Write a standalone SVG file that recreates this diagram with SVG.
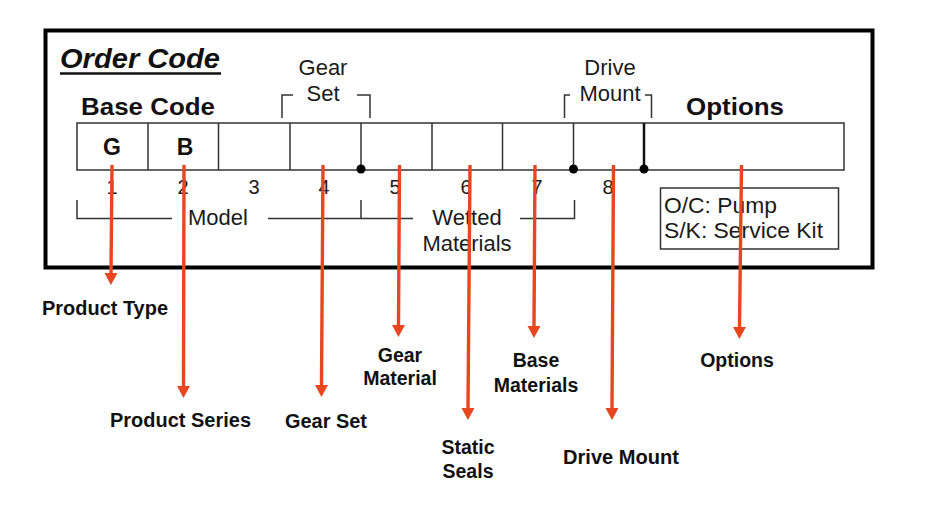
<svg xmlns="http://www.w3.org/2000/svg" width="936" height="525" viewBox="0 0 936 525">
<defs>
<marker id="ah" viewBox="0 0 12 13" refX="0" refY="6.5" markerWidth="12" markerHeight="13" markerUnits="userSpaceOnUse" orient="auto">
<path d="M0,0 L12,6.5 L0,13 z" fill="#E8461E"/>
</marker>
</defs>
<style>
.t{font-family:"Liberation Sans",Arial,sans-serif;fill:#1a1a1a}
.b{font-family:"Liberation Sans",Arial,sans-serif;font-weight:bold;fill:#111}
.n{font-size:20px;text-anchor:middle}
.lbl{font-size:19.5px}
.ln{stroke:#333;stroke-width:1.5;fill:none}
.arr{stroke:#E8461E;stroke-width:3.4;fill:none;marker-end:url(#ah)}
.mid{text-anchor:middle}
</style>
<rect width="936" height="525" fill="#fff"/>
<g id="frame">
<rect x="45.5" y="30.5" width="827" height="237" fill="none" stroke="#000" stroke-width="4"/>
<text class="b" x="60" y="68" font-size="27" font-style="italic" textLength="160" lengthAdjust="spacingAndGlyphs">Order Code</text>
<line x1="60" y1="73.5" x2="221" y2="73.5" stroke="#111" stroke-width="2.5"/>
<text class="b" x="81" y="115" font-size="23" textLength="134" lengthAdjust="spacingAndGlyphs">Base Code</text>
<text class="b" x="686" y="115" font-size="24" textLength="98" lengthAdjust="spacingAndGlyphs">Options</text>
</g>
<g id="table">
<rect x="77" y="123" width="767" height="47" class="ln"/>
<line class="ln" x1="148" y1="123" x2="148" y2="170"/>
<line class="ln" x1="218.5" y1="123" x2="218.5" y2="170"/>
<line class="ln" x1="290" y1="123" x2="290" y2="170"/>
<line class="ln" x1="361" y1="123" x2="361" y2="170"/>
<line class="ln" x1="432" y1="123" x2="432" y2="170"/>
<line class="ln" x1="502.5" y1="123" x2="502.5" y2="170"/>
<line class="ln" x1="573.5" y1="123" x2="573.5" y2="170"/>
<line x1="644" y1="123" x2="644" y2="170" stroke="#111" stroke-width="2.5"/>
<circle cx="361" cy="169" r="4.5" fill="#000"/>
<circle cx="573.5" cy="169" r="4.5" fill="#000"/>
<circle cx="644" cy="169" r="4.5" fill="#000"/>
<text class="b mid" x="112" y="155" font-size="23">G</text>
<text class="b mid" x="185" y="155" font-size="23">B</text>
<text class="t n" x="112" y="194">1</text>
<text class="t n" x="183" y="194">2</text>
<text class="t n" x="254" y="194">3</text>
<text class="t n" x="324" y="194">4</text>
<text class="t n" x="395" y="194">5</text>
<text class="t n" x="466" y="194">6</text>
<text class="t n" x="537" y="194">7</text>
<text class="t n" x="608" y="194">8</text>
</g>
<g id="brackets">
<path class="ln" d="M77,200 V218.5 H172 M268,218.5 H361 V200 M361,218.5 H413 M520,218.5 H574.5 V200"/>
<text class="t mid" x="218" y="225" font-size="22">Model</text>
<text class="t mid" x="467" y="225" font-size="22">Wetted</text>
<text class="t mid" x="467" y="251" font-size="22">Materials</text>
<path class="ln" d="M293,95 H282 V118 M357,95 H370 V118"/>
<text class="t mid" x="323" y="75" font-size="22">Gear</text>
<text class="t mid" x="323" y="101" font-size="22">Set</text>
<path class="ln" d="M570,95 H564.5 V118 M645,95 H651.5 V118"/>
<text class="t mid" x="610" y="75" font-size="22">Drive</text>
<text class="t mid" x="610" y="101" font-size="22">Mount</text>
<rect class="ln" x="660.5" y="188" width="178" height="61"/>
<text class="t" x="664" y="213" font-size="22" textLength="113" lengthAdjust="spacingAndGlyphs">O/C: Pump</text>
<text class="t" x="664" y="238" font-size="22" textLength="159" lengthAdjust="spacingAndGlyphs">S/K: Service Kit</text>
</g>
<g id="connectors">
<line class="arr" x1="112" y1="165" x2="111" y2="273"/>
<line class="arr" x1="184" y1="165" x2="183.5" y2="386"/>
<line class="arr" x1="323" y1="165" x2="321.5" y2="385"/>
<line class="arr" x1="399.5" y1="165" x2="398.5" y2="325"/>
<line class="arr" x1="470" y1="165" x2="468" y2="408"/>
<line class="arr" x1="535" y1="165" x2="534" y2="326"/>
<line class="arr" x1="613.5" y1="165" x2="612" y2="408"/>
<line class="arr" x1="741.5" y1="165" x2="739.5" y2="327"/>
</g>
<g id="n-product-type"><text class="b lbl" x="42" y="315" textLength="126" lengthAdjust="spacingAndGlyphs">Product Type</text></g>
<g id="n-product-series"><text class="b lbl" x="110" y="427" textLength="141" lengthAdjust="spacingAndGlyphs">Product Series</text></g>
<g id="n-gear-set"><text class="b lbl" x="285" y="428" textLength="82" lengthAdjust="spacingAndGlyphs">Gear Set</text></g>
<g id="n-gear-material"><text class="b lbl mid" x="400" y="362">Gear</text><text class="b lbl mid" x="400" y="385">Material</text></g>
<g id="n-static-seals"><text class="b lbl mid" x="468" y="454">Static</text><text class="b lbl mid" x="468" y="478">Seals</text></g>
<g id="n-base-materials"><text class="b lbl mid" x="536" y="367">Base</text><text class="b lbl mid" x="536" y="392">Materials</text></g>
<g id="n-drive-mount"><text class="b lbl" x="563" y="464" textLength="116" lengthAdjust="spacingAndGlyphs">Drive Mount</text></g>
<g id="n-options"><text class="b lbl mid" x="737" y="367">Options</text></g>
</svg>
